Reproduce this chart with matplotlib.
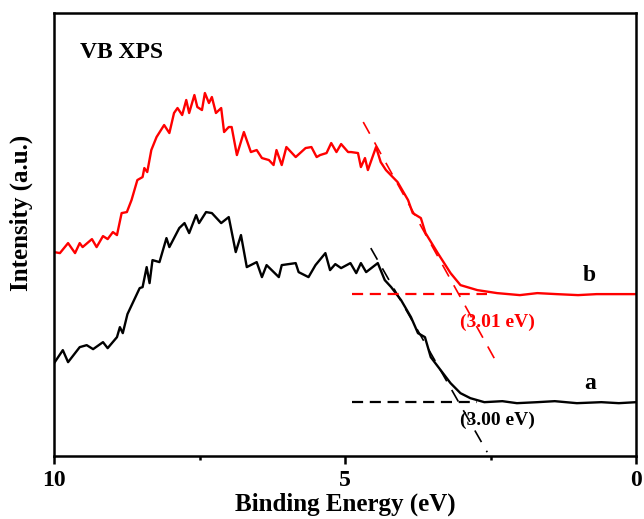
import matplotlib.pyplot as plt
from matplotlib.ticker import MultipleLocator

# VB XPS spectra (intensity in arbitrary units)
energy_a = [10.00, 9.85, 9.76, 9.56, 9.44, 9.33, 9.16, 9.08, 8.92, 8.87, 8.82, 8.74,
            8.53, 8.48, 8.41, 8.36, 8.31, 8.19, 8.07, 8.02, 7.85, 7.76, 7.68, 7.56,
            7.51, 7.39, 7.29, 7.13, 7.00, 6.88, 6.79, 6.69, 6.52, 6.43, 6.35, 6.14,
            6.09, 5.85, 5.80, 5.63, 5.51, 5.34, 5.26, 5.17, 5.07, 4.91, 4.81, 4.73,
            4.64, 4.44, 4.32, 4.21, 4.04, 3.87, 3.75, 3.63, 3.53, 3.36, 3.19, 3.02,
            2.85, 2.61, 2.30, 2.05, 1.70, 1.40, 1.02, 0.60, 0.30, 0.00]
intensity_a = [93, 106, 94, 109, 111, 107, 114, 108, 119, 129, 123, 142,
               168, 169, 189, 173, 196, 194, 218, 209, 228, 233, 223, 241,
               233, 244, 243, 233, 239, 204, 221, 189, 194, 179, 191, 179,
               191, 193, 184, 179, 191, 203, 186, 192, 188, 193, 183, 193,
               184, 193, 176, 169, 156, 139, 123, 119, 99, 86, 73, 63,
               58, 54, 55, 53, 54, 55, 53, 54, 53, 54]

energy_b = [10.00, 9.90, 9.76, 9.64, 9.56, 9.51, 9.35, 9.27, 9.16, 9.08, 8.99, 8.92,
            8.84, 8.75, 8.67, 8.57, 8.48, 8.45, 8.40, 8.33, 8.24, 8.11, 8.02, 7.94,
            7.88, 7.80, 7.73, 7.68, 7.59, 7.54, 7.46, 7.41, 7.34, 7.29, 7.22, 7.13,
            7.08, 7.00, 6.95, 6.86, 6.74, 6.62, 6.52, 6.43, 6.31, 6.23, 6.18, 6.09,
            6.01, 5.85, 5.68, 5.58, 5.49, 5.43, 5.32, 5.24, 5.15, 5.07, 4.95, 4.90,
            4.78, 4.73, 4.66, 4.61, 4.47, 4.39, 4.30, 4.10, 3.92, 3.84, 3.70, 3.62,
            3.41, 3.19, 3.02, 2.73, 2.39, 2.00, 1.70, 1.37, 1.00, 0.68, 0.30, 0.00]
intensity_b = [204, 203, 213, 203, 213, 209, 217, 209, 220, 217, 224, 221,
               243, 244, 256, 276, 279, 288, 284, 306, 319, 331, 323, 343,
               348, 341, 356, 343, 361, 349, 346, 363, 353, 359, 343, 348,
               324, 329, 329, 301, 324, 304, 306, 298, 296, 291, 306, 291,
               309, 299, 308, 309, 299, 301, 303, 313, 304, 312, 304, 304,
               303, 289, 298, 286, 309, 294, 286, 274, 256, 243, 238, 223,
               203, 183, 171, 166, 163, 161, 163, 162, 161, 162, 162, 162]

# onset fits: baseline and tangent end points (eV, a.u.)
baseline_a = [[4.88, 2.73], [54, 54]]
tangent_a = [[4.56, 2.56], [208, 4]]
baseline_b = [[4.88, 2.56], [162, 162]]
tangent_b = [[4.69, 2.44], [334, 98]]

plt.rcParams['font.family'] = ['Liberation Serif', 'DejaVu Serif']
plt.rcParams['font.weight'] = 'bold'

fig = plt.figure(figsize=(6.44, 5.19), dpi=100)
ax = fig.add_axes([0.084, 0.121, 0.904, 0.854])

ax.plot(energy_a, intensity_a, color='black', lw=1.7)
ax.plot(energy_b, intensity_b, color='red', lw=1.7)

ax.plot(*baseline_a, color='black', lw=1.6, dashes=(5, 3))
ax.plot(*tangent_a, color='black', lw=1.2, dashes=(8, 6))
ax.plot(*baseline_b, color='red', lw=1.6, dashes=(5, 3))
ax.plot(*tangent_b, color='red', lw=1.2, dashes=(8, 6))

ax.text(0.044, 0.91, 'VB XPS', transform=ax.transAxes, fontsize=17,
        fontweight='bold', va='center')
ax.text(0.8, 170, 'b', fontsize=17, fontweight='bold', ha='center', va='bottom')
ax.text(0.8, 62, 'a', fontsize=17, fontweight='bold', ha='center', va='bottom')
ax.text(2.38, 134, '(3.01 eV)', color='red', fontsize=14, fontweight='bold',
        ha='center', va='center')
ax.text(2.38, 36, '(3.00 eV)', color='black', fontsize=14, fontweight='bold',
        ha='center', va='center')

ax.set_xlim(10, 0)
ax.set_ylim(0, 443)
ax.xaxis.set_major_locator(MultipleLocator(5))
ax.xaxis.set_minor_locator(MultipleLocator(2.5))
ax.tick_params(axis='x', which='major', direction='out', length=6, width=1.8,
               labelsize=17, pad=4)
ax.tick_params(axis='x', which='minor', direction='out', length=3, width=1.8)
ax.set_yticks([])
for s in ax.spines.values():
    s.set_linewidth(1.8)

ax.set_xlabel('Binding Energy (eV)', fontsize=18, fontweight='bold', labelpad=1)
ax.set_ylabel('Intensity (a.u.)', fontsize=18, fontweight='bold')
ax.yaxis.set_label_coords(-0.036, 0.55)

fig.savefig('out.png', dpi=100)
